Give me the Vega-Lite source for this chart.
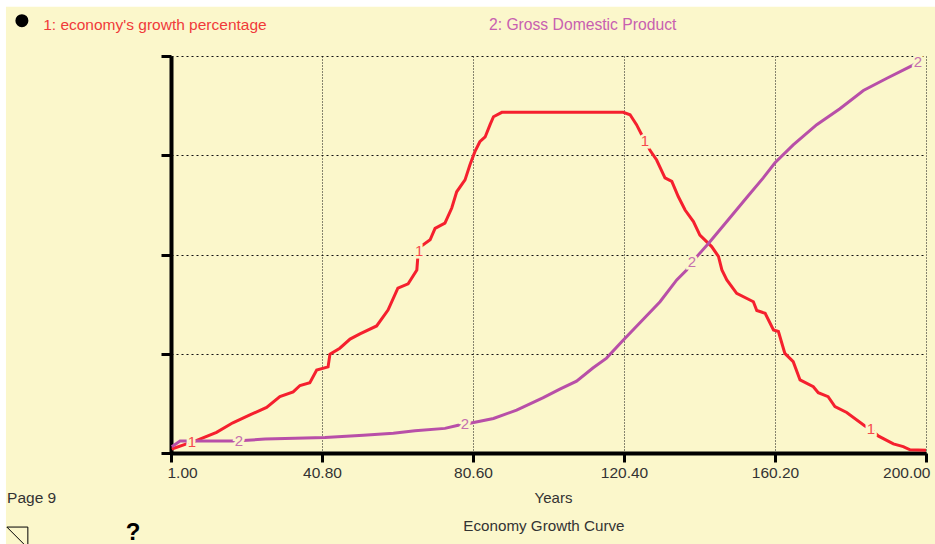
{"$schema":"https://vega.github.io/schema/vega-lite/v6.json","width":755,"height":397,"autosize":{"type":"none"},"padding":{"left":171,"top":56,"right":9,"bottom":91},"background":"#FBF7CB","config":{"view":{"stroke":null},"font":"Liberation Sans"},"datasets":{"curves":[
{"year":1.2,"series":"growth","value":1.0},{"year":5.1,"series":"growth","value":2.3},{"year":6.5,"series":"growth","value":2.7,"label":"1"},{"year":8.6,"series":"growth","value":3.5},{"year":13.0,"series":"growth","value":5.2},{"year":17.3,"series":"growth","value":7.6},{"year":21.8,"series":"growth","value":9.6},{"year":26.2,"series":"growth","value":11.5},{"year":29.7,"series":"growth","value":14.2},{"year":33.2,"series":"growth","value":15.4},{"year":35.0,"series":"growth","value":17.0},{"year":37.6,"series":"growth","value":17.7},{"year":39.4,"series":"growth","value":20.9},{"year":42.4,"series":"growth","value":21.7},{"year":42.9,"series":"growth","value":24.9},{"year":45.5,"series":"growth","value":26.4},{"year":48.2,"series":"growth","value":28.7},{"year":50.8,"series":"growth","value":30.0},{"year":55.2,"series":"growth","value":32.0},{"year":58.2,"series":"growth","value":36.0},{"year":60.8,"series":"growth","value":41.5},{"year":63.5,"series":"growth","value":42.6},{"year":65.8,"series":"growth","value":46.1},{"year":66.1,"series":"growth","value":49.9},{"year":66.4,"series":"growth","value":50.8,"label":"1"},{"year":66.8,"series":"growth","value":52.0},{"year":69.3,"series":"growth","value":53.7},{"year":70.6,"series":"growth","value":56.6},{"year":73.2,"series":"growth","value":57.9},{"year":75.0,"series":"growth","value":61.7},{"year":76.3,"series":"growth","value":65.8},{"year":78.5,"series":"growth","value":68.8},{"year":79.8,"series":"growth","value":72.6},{"year":81.1,"series":"growth","value":75.9},{"year":82.4,"series":"growth","value":78.4},{"year":83.8,"series":"growth","value":79.6},{"year":85.1,"series":"growth","value":82.7},{"year":86.0,"series":"growth","value":84.7},{"year":88.2,"series":"growth","value":85.8},{"year":120.2,"series":"growth","value":85.8},{"year":122.0,"series":"growth","value":85.2},{"year":123.7,"series":"growth","value":82.7},{"year":125.1,"series":"growth","value":80.1},{"year":125.9,"series":"growth","value":78.7,"label":"1"},{"year":127.3,"series":"growth","value":76.2},{"year":129.0,"series":"growth","value":73.8},{"year":131.2,"series":"growth","value":69.3},{"year":133.0,"series":"growth","value":68.4},{"year":134.7,"series":"growth","value":64.6},{"year":136.5,"series":"growth","value":61.2},{"year":138.7,"series":"growth","value":58.3},{"year":140.4,"series":"growth","value":54.9},{"year":143.5,"series":"growth","value":52.0},{"year":145.3,"series":"growth","value":49.5},{"year":146.2,"series":"growth","value":46.1},{"year":147.5,"series":"growth","value":43.6},{"year":150.1,"series":"growth","value":40.2},{"year":154.5,"series":"growth","value":38.1},{"year":155.4,"series":"growth","value":35.9},{"year":157.6,"series":"growth","value":35.2},{"year":159.8,"series":"growth","value":31.0},{"year":161.1,"series":"growth","value":30.6},{"year":162.8,"series":"growth","value":25.1},{"year":165.0,"series":"growth","value":23.0},{"year":166.8,"series":"growth","value":18.4},{"year":170.3,"series":"growth","value":16.7},{"year":171.6,"series":"growth","value":15.2},{"year":174.2,"series":"growth","value":14.2},{"year":176.0,"series":"growth","value":11.7},{"year":179.1,"series":"growth","value":10.2},{"year":183.9,"series":"growth","value":6.8},{"year":185.5,"series":"growth","value":6.0,"label":"1"},{"year":187.4,"series":"growth","value":4.3},{"year":191.4,"series":"growth","value":2.3},{"year":194.0,"series":"growth","value":1.6},{"year":195.8,"series":"growth","value":0.8},{"year":200,"series":"growth","value":0.7},
{"year":1.2,"series":"gdp","value":1.6},{"year":3.4,"series":"gdp","value":3.0},{"year":17.0,"series":"gdp","value":3.0},{"year":18.9,"series":"gdp","value":3.1,"label":"2"},{"year":25.8,"series":"gdp","value":3.5},{"year":41.6,"series":"gdp","value":3.9},{"year":51.7,"series":"gdp","value":4.5},{"year":59.6,"series":"gdp","value":5.0},{"year":65.3,"series":"gdp","value":5.6},{"year":73.2,"series":"gdp","value":6.2},{"year":76.7,"series":"gdp","value":7.0},{"year":78.5,"series":"gdp","value":7.3,"label":"2"},{"year":79.8,"series":"gdp","value":7.5},{"year":86.0,"series":"gdp","value":8.7},{"year":92.1,"series":"gdp","value":10.8},{"year":99.0,"series":"gdp","value":13.9},{"year":103.5,"series":"gdp","value":16.1},{"year":107.9,"series":"gdp","value":18.1},{"year":112.2,"series":"gdp","value":21.4},{"year":115.8,"series":"gdp","value":23.9},{"year":119.8,"series":"gdp","value":28.0},{"year":124.6,"series":"gdp","value":32.8},{"year":129.9,"series":"gdp","value":38.1},{"year":134.3,"series":"gdp","value":43.6},{"year":136.9,"series":"gdp","value":46.1},{"year":138.3,"series":"gdp","value":48.0,"label":"2"},{"year":140,"series":"gdp","value":49.9},{"year":142.6,"series":"gdp","value":52.7},{"year":147.5,"series":"gdp","value":58.3},{"year":152.7,"series":"gdp","value":64.3},{"year":157.1,"series":"gdp","value":69.3},{"year":160.2,"series":"gdp","value":73.1},{"year":165,"series":"gdp","value":77.6},{"year":171.2,"series":"gdp","value":82.7},{"year":177.3,"series":"gdp","value":86.7},{"year":183.5,"series":"gdp","value":91.3},{"year":189.7,"series":"gdp","value":94.4},{"year":196.2,"series":"gdp","value":97.5},{"year":197.9,"series":"gdp","value":98.5,"label":"2"}
]},
"layer":[
{"data":{"name":"curves"},"mark":{"type":"line","strokeWidth":3,"interpolate":"linear"},"encoding":{
"x":{"field":"year","type":"quantitative","scale":{"domain":[1,200],"nice":false,"zero":false},"axis":{"values":[1,40.8,80.6,120.4,160.2,200],"format":".2f","title":"Years","titleFont":"Liberation Sans","titleFontWeight":"normal","titleFontSize":15,"titleColor":"#333","titleX":382,"titleY":37,"labelFont":"Liberation Sans","labelFontSize":15.5,"labelColor":"#333","labelPadding":3,"labelFlush":true,"labelFlushOffset":4,"labelOverlap":false,"domainColor":"#000","domainWidth":4,"tickColor":"#000","tickWidth":3,"tickSize":9,"grid":true,"gridColor":"#111","gridWidth":1,"gridDash":[1,2]}},
"y":{"field":"value","type":"quantitative","scale":{"domain":[0,100],"nice":false,"zero":false},"axis":{"values":[0,25,50,75,100],"labels":false,"title":null,"domainColor":"#000","domainWidth":4,"tickColor":"#000","tickWidth":3,"tickSize":10,"grid":true,"gridColor":"#111","gridWidth":1,"gridDash":[2,3]}},
"color":{"field":"series","type":"nominal","scale":{"domain":["growth","gdp"],"range":["#F5202E","#B84FA8"]},"legend":null},"detail":{"field":"series"}}},
{"data":{"name":"curves"},"transform":[{"filter":"datum.label"}],"mark":{"type":"text","fontSize":15,"stroke":"#FBF7CB","strokeWidth":5,"align":"center","baseline":"middle"},"encoding":{"x":{"field":"year","type":"quantitative"},"y":{"field":"value","type":"quantitative"},"text":{"field":"label"}}},
{"data":{"name":"curves"},"transform":[{"filter":"datum.label"}],"mark":{"type":"text","fontSize":15,"align":"center","baseline":"middle","opacity":0.8},"encoding":{"x":{"field":"year","type":"quantitative"},"y":{"field":"value","type":"quantitative"},"text":{"field":"label"},"color":{"field":"series","type":"nominal","scale":{"domain":["growth","gdp"],"range":["#F5202E","#B84FA8"]},"legend":null}}},
{"data":{"values":[{"n":1}]},"mark":{"type":"rect","fill":"#FFFFFF"},"encoding":{"x":{"datum":-45,"type":"quantitative"},"x2":{"datum":203},"y":{"datum":112.4,"type":"quantitative"},"y2":{"datum":115}}},
{"data":{"values":[{"n":1}]},"mark":{"type":"rect","fill":"#FFFFFF"},"encoding":{"x":{"datum":-45,"type":"quantitative"},"x2":{"datum":-42.5},"y":{"datum":115,"type":"quantitative"},"y2":{"datum":-23}}},
{"data":{"values":[{"t":"1: economy's growth percentage"}]},"mark":{"type":"text","align":"left","baseline":"middle","fontSize":15.5,"color":"#F03A3A"},"encoding":{"x":{"datum":-32.7,"type":"quantitative"},"y":{"datum":107.9,"type":"quantitative"},"text":{"field":"t"}}},
{"data":{"values":[{"t":"2: Gross Domestic Product"}]},"mark":{"type":"text","align":"left","baseline":"middle","fontSize":15.7,"color":"#C860B0"},"encoding":{"x":{"datum":84.8,"type":"quantitative"},"y":{"datum":107.9,"type":"quantitative"},"text":{"field":"t"}}},
{"data":{"values":[{"t":"Page 9"}]},"mark":{"type":"text","align":"left","baseline":"middle","fontSize":15.5,"color":"#333"},"encoding":{"x":{"datum":-42.2,"type":"quantitative"},"y":{"datum":-11.3,"type":"quantitative"},"text":{"field":"t"}}},
{"data":{"values":[{"t":"Economy Growth Curve"}]},"mark":{"type":"text","align":"center","baseline":"middle","fontSize":15.2,"color":"#333"},"encoding":{"x":{"datum":99.3,"type":"quantitative"},"y":{"datum":-18.4,"type":"quantitative"},"text":{"field":"t"}}},
{"data":{"values":[{"t":"?"}]},"mark":{"type":"text","align":"center","baseline":"middle","fontSize":24,"fontWeight":"bold","color":"#000"},"encoding":{"x":{"datum":-9,"type":"quantitative"},"y":{"datum":-20.2,"type":"quantitative"},"text":{"field":"t"}}},
{"data":{"values":[{"n":1}]},"mark":{"type":"point","shape":"circle","filled":true,"color":"#000","size":170,"opacity":1},"encoding":{"x":{"datum":-38.3,"type":"quantitative"},"y":{"datum":108.9,"type":"quantitative"}}},
{"data":{"values":[{"n":1}]},"mark":{"type":"point","shape":"M-1,-1L1,-1L1,1Z","filled":false,"stroke":"#000","strokeWidth":1,"size":441,"opacity":1},"encoding":{"x":{"datum":-39.5,"type":"quantitative"},"y":{"datum":-21.3,"type":"quantitative"}}}
]}
